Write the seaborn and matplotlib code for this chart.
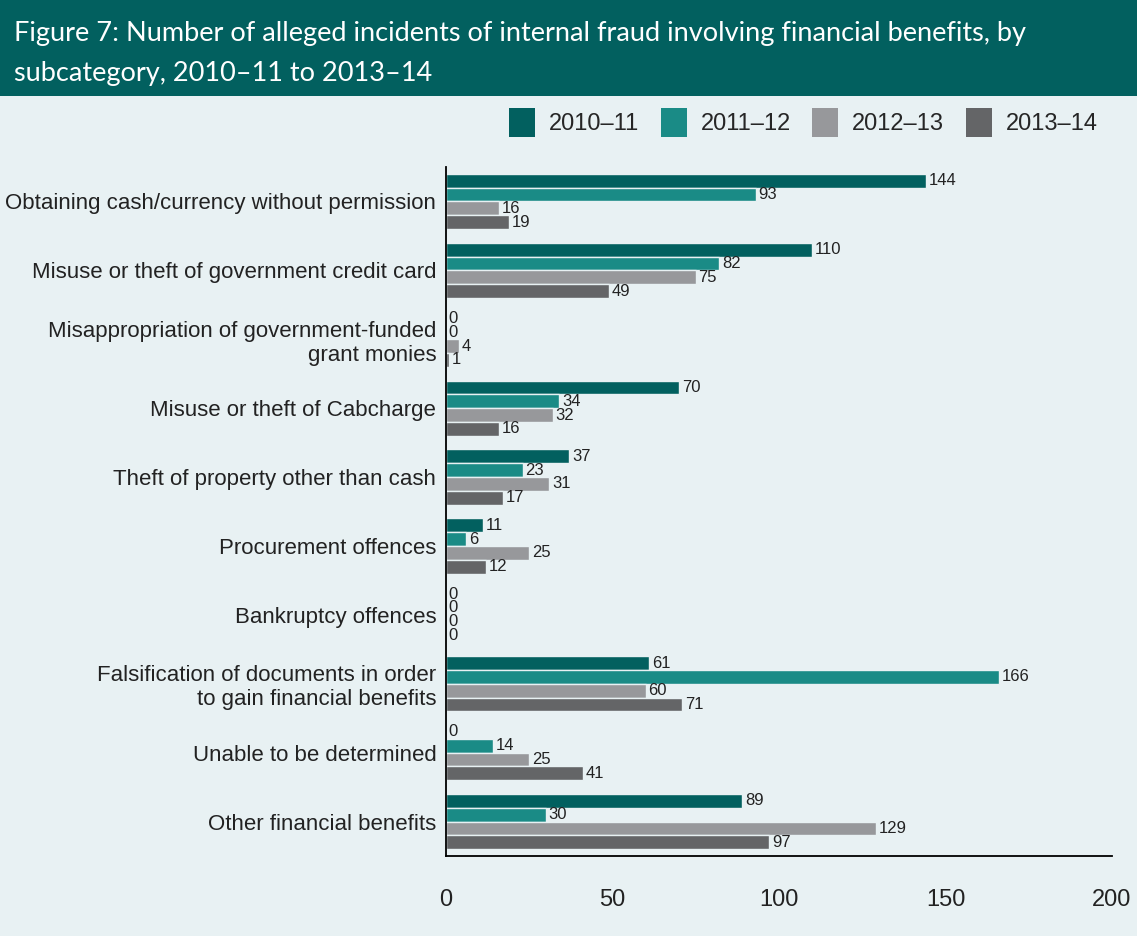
import seaborn as sns
import matplotlib.pyplot as plt
import pandas as pd
from matplotlib.patches import Rectangle, Patch

# Data
categories = [
    "Obtaining cash/currency without permission",
    "Misuse or theft of government credit card",
    "Misappropriation of government-funded\ngrant monies",
    "Misuse or theft of Cabcharge",
    "Theft of property other than cash",
    "Procurement offences",
    "Bankruptcy offences",
    "Falsification of documents in order\nto gain financial benefits",
    "Unable to be determined",
    "Other financial benefits",
]
years = ["2010–11", "2011–12", "2012–13", "2013–14"]
v_2010_11 = [144, 110, 0, 70, 37, 11, 0, 61, 0, 89]
v_2011_12 = [93, 82, 0, 34, 23, 6, 0, 166, 14, 30]
v_2012_13 = [16, 75, 4, 32, 31, 25, 0, 60, 25, 129]
v_2013_14 = [19, 49, 1, 16, 17, 12, 0, 71, 41, 97]
x_ticks = [0, 50, 100, 150, 200]

colors = ["#02605f", "#1a8b86", "#97989b", "#646567"]
bg = "#e8f1f3"
header = "#02605f"

df = pd.DataFrame({
    "Category": categories * 4,
    "Year": [y for y in years for _ in categories],
    "Count": v_2010_11 + v_2011_12 + v_2012_13 + v_2013_14,
})

sns.set_style("white")
plt.rcParams['font.family'] = ['Liberation Sans', 'DejaVu Sans']

W, H = 1137, 936
fig = plt.figure(figsize=(W / 100, H / 100), dpi=100, facecolor=bg)

# header band
fig.patches.append(Rectangle((0, 1 - 96 / H), 1, 96 / H, transform=fig.transFigure,
                             facecolor=header, edgecolor="none", zorder=0))
fig.text(14 / W, 1 - 34 / H,
         "Figure 7: Number of alleged incidents of internal fraud involving financial benefits, by",
         color="white", fontsize=19.5, va="center", ha="left", family=["Lato", "DejaVu Sans"])
fig.text(14 / W, 1 - 74 / H, "subcategory, 2010–11 to 2013–14",
         color="white", fontsize=19.5, va="center", ha="left", family=["Lato", "DejaVu Sans"])

ax = fig.add_axes([446 / W, (H - 856) / H, (1112 - 446) / W, (856 - 167) / H])
ax.set_facecolor(bg)
sns.barplot(data=df, y="Category", x="Count", hue="Year", palette=colors, orient="h",
            width=0.8, saturation=1, edgecolor=bg, linewidth=1, ax=ax, legend=False)

for cont in ax.containers:
    ax.bar_label(cont, padding=2, fontsize=12, color="#222222")

ax.set_xlim(0, 200)
ax.set_ylim(len(categories) - 0.5, -0.5)
ax.set_xticks(x_ticks)
ax.set_xlabel("")
ax.set_ylabel("")
ax.tick_params(axis="x", length=0, pad=24, labelsize=17, labelcolor="#222222")
ax.tick_params(axis="y", length=0, pad=7, labelsize=16, labelcolor="#222222")
for lab in ax.get_yticklabels():
    lab.set_multialignment("right")
sns.despine(ax=ax)
for side in ["left", "bottom"]:
    ax.spines[side].set_color("black")
    ax.spines[side].set_linewidth(1.3)

handles = [Patch(facecolor=c, edgecolor="none", label=y) for c, y in zip(colors, years)]
fig.legend(handles=handles, loc="upper right", bbox_to_anchor=(1119 / W, 1 - 87 / H),
           ncol=4, frameon=False, fontsize=17, handlelength=1.1, handleheight=1.5,
           columnspacing=0.9, handletextpad=0.6)

fig.savefig("out.png", dpi=100, facecolor=bg)
